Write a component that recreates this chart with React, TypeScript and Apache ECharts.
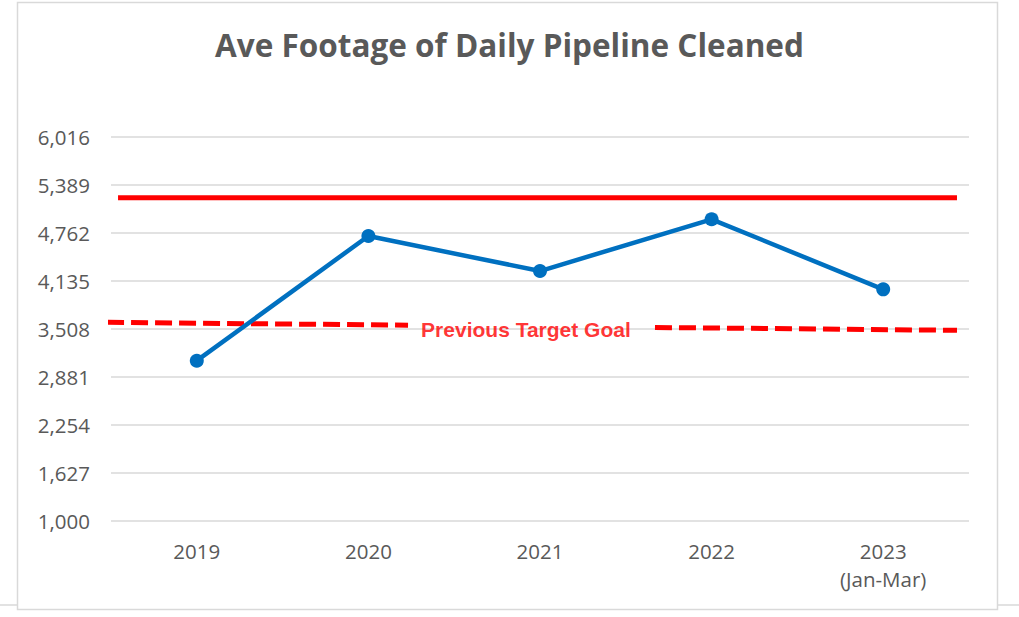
import React, { useEffect, useRef } from "react";
import * as echarts from "echarts";

const categories = ["2019", "2020", "2021", "2022", "2023\n(Jan-Mar)"];
const footage = [3094, 4723, 4265, 4941, 4026];
const yTicks = [1000, 1627, 2254, 2881, 3508, 4135, 4762, 5389, 6016];
// current goal line: [x in category units, value]
const goalLine = [[-0.459, 5223], [4.43, 5223]];
const prevGoalLeft = [[-0.523, 3595], [1.231, 3558]];
const prevGoalRight = [[2.67, 3528], [4.43, 3491]];
const prevGoalLabel = [[1.918, 3508]];
const titleText = "Ave Footage of Daily Pipeline Cleaned";
const prevGoalText = "Previous Target Goal";

export default function App() {
  const ref = useRef<HTMLDivElement>(null);
  useEffect(() => {
    if (!ref.current) return;
    const chart = echarts.init(ref.current, null, { renderer: "svg" });
    const gray = "#595959";
    const red = "#FF0000";
    const labelFont = "'Open Sans', sans-serif";
    chart.setOption({
      animation: false,
      backgroundColor: "#ffffff",
      title: {
        text: titleText,
        left: "center",
        top: 23,
        textStyle: { color: gray, fontSize: 31.5, fontWeight: "bold", fontFamily: labelFont },
      },
      graphic: [
        { type: "line", z: -2, shape: { x1: 0, y1: 605, x2: 1019, y2: 605 }, style: { stroke: "#d9d9d9", lineWidth: 1.5 } },
        { type: "rect", z: -1, shape: { x: 17.5, y: 2.5, width: 980, height: 607 }, style: { fill: "#ffffff", stroke: "#d9d9d9", lineWidth: 1.5 } },
      ],
      grid: { left: 111, right: 50, top: 137, bottom: 96 },
      xAxis: [
        {
          type: "category",
          data: categories,
          boundaryGap: true,
          axisLine: { show: false },
          axisTick: { show: false },
          axisLabel: { color: gray, fontSize: 20.5, fontFamily: labelFont, margin: 16, lineHeight: 28 },
        },
        { type: "value", show: false, min: -0.5, max: 4.5 },
      ],
      yAxis: {
        type: "value",
        min: 1000,
        max: 6016,
        axisLine: { show: false },
        axisTick: { show: false, customValues: yTicks },
        axisLabel: {
          customValues: yTicks,
          color: gray,
          fontSize: 20.5,
          fontFamily: labelFont,
          margin: 21,
          formatter: (v: number) => v.toLocaleString("en-US"),
        },
        splitLine: { show: true, lineStyle: { color: "#d9d9d9", width: 1.5 } },
      },
      series: [
        {
          name: "Goal",
          type: "line",
          xAxisIndex: 1,
          data: goalLine,
          symbol: "none",
          clip: false,
          lineStyle: { color: red, width: 5 },
          z: 3,
        },
        {
          name: "Previous Goal A",
          type: "line",
          xAxisIndex: 1,
          data: prevGoalLeft,
          symbol: "none",
          clip: false,
          lineStyle: { color: red, width: 5, type: [17, 7] },
          z: 3,
        },
        {
          name: "Previous Goal B",
          type: "line",
          xAxisIndex: 1,
          data: prevGoalRight,
          symbol: "none",
          clip: false,
          lineStyle: { color: red, width: 5, type: [17, 7] },
          z: 3,
        },
        {
          name: "Previous Goal Label",
          type: "scatter",
          xAxisIndex: 1,
          data: prevGoalLabel,
          symbolSize: 0,
          z: 5,
          label: {
            show: true,
            position: "inside",
            formatter: prevGoalText,
            color: red,
            fontSize: 21,
            fontWeight: "bold",
            fontFamily: "Liberation Sans, Arial, sans-serif",
          },
        },
        {
          name: "Ave Footage",
          type: "line",
          xAxisIndex: 0,
          data: footage,
          symbol: "circle",
          symbolSize: 14,
          itemStyle: { color: "#0070C0" },
          lineStyle: { color: "#0070C0", width: 4.5 },
          z: 4,
        },
      ],
    });
    return () => chart.dispose();
  }, []);
  return <div ref={ref} style={{ position: "fixed", left: 0, top: 0, width: 1019, height: 617 }} />;
}
